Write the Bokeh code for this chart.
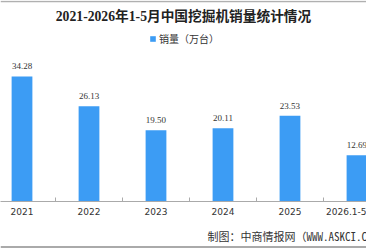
from bokeh.plotting import figure
from bokeh.layouts import column
from bokeh.models import (ColumnDataSource, Range1d, FixedTicker, Label, Span,
                          Legend, LegendItem, LabelSet)
from bokeh.core.properties import value
from bokeh.embed import file_html
from bokeh.resources import INLINE

# ---- data ----
categories = ["2021", "2022", "2023", "2024", "2025", "2026.1-5"]
sales = [34.28, 26.13, 19.50, 20.11, 23.53, 12.69]
value_labels = ["34.28", "26.13", "19.50", "20.11", "23.53", "12.69"]
series_name = "销量（万台）"
title_text = "2021-2026年1-5月中国挖掘机销量统计情况"
source_text = "制图：中商情报网（WWW.ASKCI.COM）"

BLUE = "#3c9cf4"
CJK = "'Noto Sans CJK SC'"
YMAX = 55.1

xs = [i + 0.5 for i in range(len(categories))]
src = ColumnDataSource(dict(x=xs, top=sales, lab=value_labels))

p = figure(width=366, height=221, output_backend="svg", toolbar_location=None,
           x_range=Range1d(0.179, 5.642), y_range=Range1d(0, YMAX),
           y_axis_location=None, title=None,
           min_border_left=0, min_border_right=0, min_border_top=0,
           min_border_bottom=20)
p.outline_line_color = None
p.xgrid.visible = False
p.ygrid.visible = False
p.background_fill_color = "white"
p.border_fill_color = "white"

r = p.vbar(x="x", top="top", bottom=0, width=0.31, source=src,
           fill_color=BLUE, line_color=None)

p.add_layout(LabelSet(x="x", y="top", text="lab", source=src,
                      text_align="center", text_baseline="middle",
                      y_offset=10, text_font_size="9px",
                      text_font="'DejaVu Sans'", text_color="#333333"))

ax = p.xaxis[0]
ax.ticker = FixedTicker(ticks=xs, minor_ticks=[1, 2, 3, 4, 5])
ax.major_label_overrides = {x: c for x, c in zip(xs, categories)}
ax.major_tick_line_color = None
ax.major_tick_in = 0
ax.major_tick_out = 0
ax.minor_tick_in = 4
ax.minor_tick_out = 0
ax.minor_tick_line_color = "#aaaaaa"
ax.axis_line_color = "#aaaaaa"
ax.major_label_text_font_size = "9px"
ax.major_label_text_font = "'DejaVu Sans'"
ax.major_label_text_color = "#333333"
ax.major_label_standoff = 6

# title (screen units are relative to frame bottom-left)
p.add_layout(Label(x=183, y=185, x_units="screen", y_units="screen",
                   text=title_text, text_align="center", text_baseline="middle",
                   text_font_size="13.7px", text_font_style="bold",
                   text_font="'Liberation Serif', " + CJK, text_color="#222222"))

legend = Legend(items=[LegendItem(label=series_name, renderers=[r])],
                location=(149, 155), orientation="horizontal",
                border_line_color=None, background_fill_alpha=0,
                padding=0, margin=0, glyph_width=7, glyph_height=7,
                label_standoff=3, label_text_font_size="10px",
                label_text_font=CJK, label_text_color="#333333",
                label_height=10)
p.add_layout(legend)

# top rule
p.add_layout(Span(location=YMAX * (1 - 1.0 / 201), dimension="width",
                  line_color="#b0b0b0", line_width=1.5))

# footer strip with source note and bottom rule
f = figure(width=366, height=27, output_backend="svg", toolbar_location=None,
           x_range=Range1d(0, 366), y_range=Range1d(0, 27),
           x_axis_location=None, y_axis_location=None, title=None,
           min_border_left=0, min_border_right=0, min_border_top=0,
           min_border_bottom=0)
f.outline_line_color = None
f.xgrid.visible = False
f.ygrid.visible = False
f.border_fill_color = "white"
f.text(x=[207], y=[13], text=[source_text], text_align="left",
       text_baseline="middle", text_font_size="11px",
       text_font=value("'Noto Sans Mono CJK SC', 'Noto Sans CJK SC'"),
       text_color="#333333")
f.add_layout(Span(location=1.5, dimension="width", line_color="#aaaaaa",
                  line_width=2))

layout = column(p, f, spacing=0)
open("out.html", "w").write(file_html(layout, INLINE))
